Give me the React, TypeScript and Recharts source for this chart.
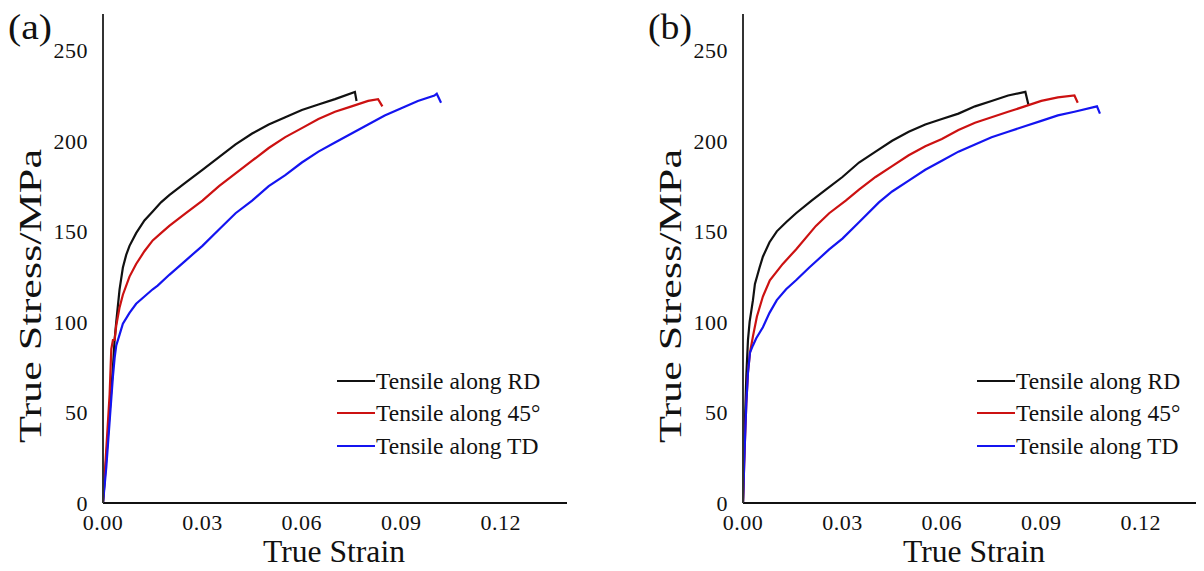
import React from 'react';
import { LineChart, Line, XAxis, YAxis } from 'recharts';

const xTicks = [0, 0.03, 0.06, 0.09, 0.12];
const yTicks = [0, 50, 100, 150, 200, 250];
const legendLabels = ['Tensile along RD', 'Tensile along 45°', 'Tensile along TD'];
const seriesColors = ['#111111', '#cc1111', '#1414f0'];

// Panel (a)
const aRdStrain = [0, 0.001, 0.002, 0.003, 0.0035, 0.004, 0.005, 0.006, 0.007, 0.008, 0.01, 0.0125, 0.015, 0.0175, 0.02, 0.025, 0.03, 0.035, 0.04, 0.045, 0.05, 0.055, 0.06, 0.065, 0.07, 0.076, 0.0765];
const aRdStress = [0, 25, 50, 75, 90, 100, 118, 130, 137, 142, 149, 156, 161, 166, 170, 177, 184, 191, 198, 204, 209, 213, 217, 220, 223, 227, 222];
const a45Strain = [0, 0.001, 0.002, 0.0025, 0.003, 0.0035, 0.004, 0.005, 0.006, 0.008, 0.01, 0.0125, 0.015, 0.0175, 0.02, 0.025, 0.03, 0.035, 0.04, 0.045, 0.05, 0.055, 0.06, 0.065, 0.07, 0.075, 0.08, 0.083, 0.0843];
const a45Stress = [0, 30, 60, 85, 90, 90, 98, 108, 115, 125, 132, 139, 145, 149, 153, 160, 167, 175, 182, 189, 196, 202, 207, 212, 216, 219, 222, 223, 219];
const aTdStrain = [0, 0.001, 0.002, 0.003, 0.0035, 0.004, 0.005, 0.006, 0.008, 0.01, 0.0125, 0.015, 0.0165, 0.02, 0.025, 0.03, 0.035, 0.04, 0.045, 0.05, 0.055, 0.06, 0.065, 0.07, 0.075, 0.08, 0.085, 0.09, 0.095, 0.1, 0.1007, 0.102];
const aTdStress = [0, 20, 45, 70, 80, 87, 93, 99, 105, 110, 114, 118, 120, 126, 134, 142, 151, 160, 167, 175, 181, 188, 194, 199, 204, 209, 214, 218, 222, 225, 226, 221];

// Panel (b)
const bRdStrain = [0, 0.0005, 0.001, 0.0015, 0.002, 0.003, 0.0036, 0.005, 0.006, 0.008, 0.0102, 0.013, 0.016, 0.0207, 0.025, 0.03, 0.035, 0.04, 0.045, 0.05, 0.055, 0.06, 0.065, 0.07, 0.075, 0.08, 0.0852, 0.0861];
const bRdStress = [0, 40, 70, 90, 100, 112, 121, 130, 136, 144, 150, 155, 160, 167, 173, 180, 188, 194, 200, 205, 209, 212, 215, 219, 222, 225, 227, 220];
const b45Strain = [0, 0.0005, 0.001, 0.0015, 0.0021, 0.003, 0.0042, 0.006, 0.0081, 0.012, 0.016, 0.022, 0.026, 0.031, 0.035, 0.04, 0.045, 0.05, 0.055, 0.06, 0.065, 0.07, 0.075, 0.08, 0.085, 0.09, 0.095, 0.1, 0.101];
const b45Stress = [0, 30, 55, 72, 83, 92, 103, 114, 123, 132, 140, 153, 160, 167, 173, 180, 186, 192, 197, 201, 206, 210, 213, 216, 219, 222, 224, 225, 221];
const bTdStrain = [0, 0.0005, 0.001, 0.0015, 0.0021, 0.003, 0.004, 0.006, 0.008, 0.0102, 0.013, 0.016, 0.02, 0.026, 0.03, 0.035, 0.041, 0.045, 0.05, 0.055, 0.06, 0.065, 0.07, 0.075, 0.08, 0.085, 0.09, 0.095, 0.1, 0.1068, 0.1077];
const bTdStress = [0, 30, 55, 72, 83, 87, 91, 97, 105, 112, 118, 123, 130, 140, 146, 155, 166, 172, 178, 184, 189, 194, 198, 202, 205, 208, 211, 214, 216, 219, 215];

const zip = (xs: number[], ys: number[]) => xs.map((x, i) => ({ x, y: ys[i] }));

const panelA = [zip(aRdStrain, aRdStress), zip(a45Strain, a45Stress), zip(aTdStrain, aTdStress)];
const panelB = [zip(bRdStrain, bRdStress), zip(b45Strain, b45Stress), zip(bTdStrain, bTdStress)];

const FONT = '"Liberation Serif", "Times New Roman", serif';
const tickStyle = { fontFamily: FONT, fontSize: 22, fill: '#111', letterSpacing: 0.5 };
const frame = { stroke: '#333', strokeWidth: 2 };

function Panel({ left, series }: { left: number; series: { x: number; y: number }[][] }) {
  return (
    <div style={{ position: 'absolute', left, top: 0, width: 600, height: 555 }}>
      <LineChart width={600} height={555} margin={{ top: 6, right: 41, bottom: 30, left: 0 }}>
        <XAxis
          dataKey="x"
          type="number"
          domain={[0, 0.14]}
          ticks={xTicks}
          interval={0}
          tickFormatter={(v: number) => v.toFixed(2)}
          tickLine={false}
          tickSize={0}
          tickMargin={11}
          height={30}
          axisLine={{ stroke: '#111', strokeWidth: 2 }}
          tick={tickStyle}
          allowDataOverflow
        />
        <XAxis xAxisId="top" orientation="top" type="number" domain={[0, 0.14]} tick={false} tickLine={false} height={0} axisLine={frame} />
        <YAxis
          dataKey="y"
          type="number"
          domain={[0, 270]}
          ticks={yTicks}
          interval={0}
          width={95}
          tickLine={false}
          tickSize={0}
          tickMargin={15}
          axisLine={frame}
          tick={tickStyle}
          allowDataOverflow
        />
        <YAxis yAxisId="right" orientation="right" type="number" domain={[0, 270]} tick={false} tickLine={false} width={0} axisLine={frame} />
        {series.map((d, i) => (
          <Line
            key={i}
            data={d}
            dataKey="y"
            type="linear"
            stroke={seriesColors[i]}
            strokeWidth={2.2}
            dot={false}
            activeDot={false}
            isAnimationActive={false}
          />
        ))}
      </LineChart>
    </div>
  );
}

function Overlay({ dx, letter }: { dx: number; letter: string }) {
  const rows = [373, 405, 438];
  return (
    <g transform={`translate(${dx},0)`}>
      <text x={0} y={31} fontFamily={FONT} fontSize={35} textLength={44} lengthAdjust="spacingAndGlyphs" fill="#111">{letter}</text>
      <text x={33} y={288} transform="rotate(-90 33 288)" textAnchor="middle" fontFamily={FONT} fontSize={32} textLength={294} lengthAdjust="spacingAndGlyphs" fill="#111">True Stress/MPa</text>
      <text x={326} y={554} textAnchor="middle" fontFamily={FONT} fontSize={31} textLength={142} lengthAdjust="spacingAndGlyphs" fill="#111">True Strain</text>
      {rows.map((y, i) => (
        <g key={i}>
          <line x1={329} x2={367} y1={y} y2={y} stroke={seriesColors[i]} strokeWidth={2} />
          <text x={368} y={y + 8} fontFamily={FONT} fontSize={23.5} fill="#111">{legendLabels[i]}</text>
        </g>
      ))}
    </g>
  );
}

export default function App() {
  return (
    <div style={{ position: 'relative', width: 1196, height: 563, overflow: 'hidden', background: '#fff' }}>
      <style>{'body{overflow:hidden;background:#fff}'}</style>
      <Panel left={0} series={panelA} />
      <Panel left={640} series={panelB} />
      <svg width={1196} height={563} style={{ position: 'absolute', left: 0, top: 0, pointerEvents: 'none' }}>
        <Overlay dx={0} letter="(a)" />
        <Overlay dx={640} letter="(b)" />
      </svg>
    </div>
  );
}
